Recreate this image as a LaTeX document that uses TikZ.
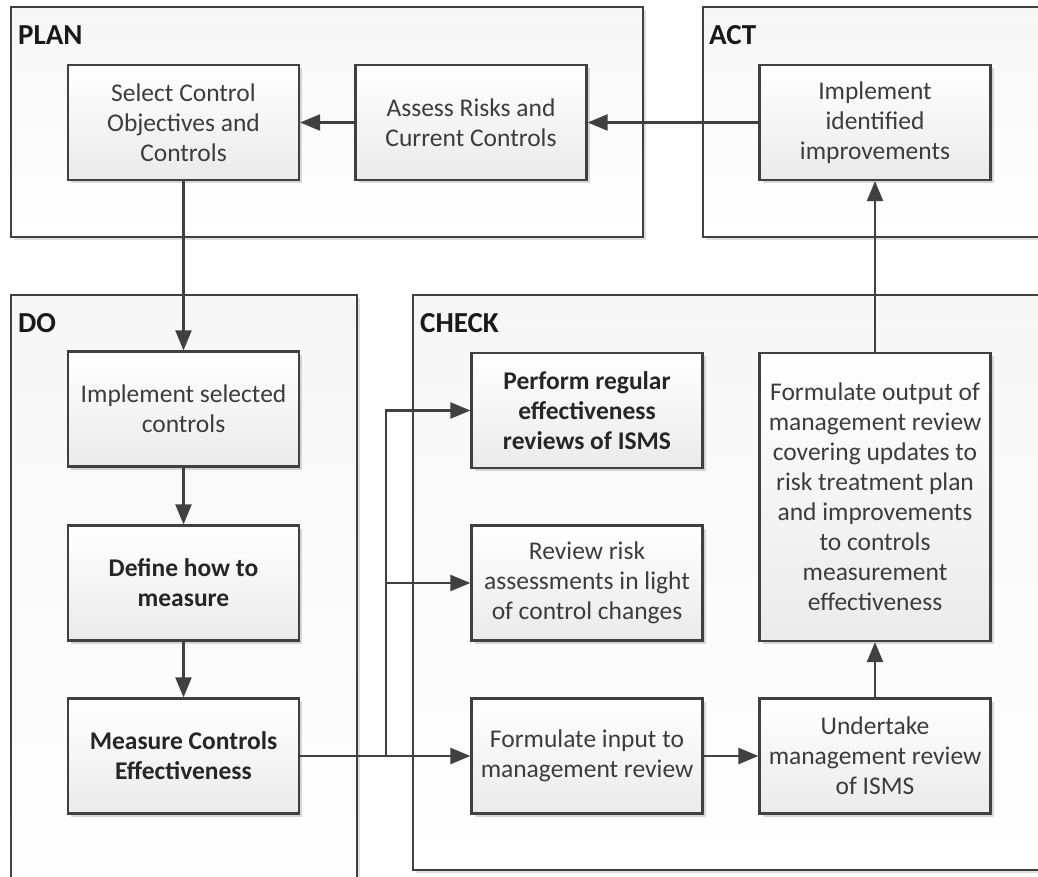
\documentclass[tikz,border=0pt]{standalone}
\usepackage{fontspec}
\setmainfont{Carlito}
\usetikzlibrary{arrows.meta,shadows}
\definecolor{lncol}{HTML}{404040}
\definecolor{txcol}{HTML}{3C3C3C}
\begin{document}
\begin{tikzpicture}[x=1pt,y=-1pt,
  container/.style={draw=lncol, line width=2.2pt, top color=gray!7, bottom color=white,
    drop shadow={shadow xshift=3pt,shadow yshift=-3pt,fill=gray,opacity=0.25}},
  stepbox/.style={draw=lncol, line width=2.2pt, top color=white, bottom color=gray!16,
    minimum width=231pt, minimum height=115pt, align=center, inner sep=0pt,
    font=\fontsize{25.5}{30}\selectfont, text=txcol,
    drop shadow={shadow xshift=3pt,shadow yshift=-3pt,fill=gray,opacity=0.3}},
  boldbox/.style={stepbox, font=\fontsize{25.5}{30}\selectfont\bfseries, text=black!85},
  title/.style={anchor=north west, font=\fontsize{29}{32}\selectfont\bfseries, inner sep=0pt, text=black!90},
  arr/.style={draw=lncol, line width=2.2pt, -{Triangle[length=20pt,width=16pt]}},
  plain/.style={draw=lncol, line width=2.2pt}
]
\useasboundingbox[fill=white] (0,0) rectangle (1038,877);
\begin{scope}
\clip (0,0) rectangle (1038,877);
% containers
\path[container] (11,7) rectangle (643,237);
\path[container] (703,7) rectangle (1070,237);
\path[container] (11,295) rectangle (357,920);
\path[container] (413,295) rectangle (1070,870);
\end{scope}
% titles
\node[title] (tplan) at (18,25) {PLAN};
\node[title] (tact) at (709,25) {ACT};
\node[title] (tdo) at (18,313) {DO};
\node[title] (tcheck) at (420,313) {CHECK};
% boxes
\node[stepbox] (sel) at (183.5,122.5) {Select Control\\Objectives and\\Controls};
\node[stepbox] (assess) at (471,122.5) {Assess Risks and\\Current Controls};
\node[stepbox] (impl) at (875,122.5) {Implement\\identified\\improvements};
\node[stepbox] (implsel) at (183.5,409) {Implement selected\\controls};
\node[boldbox] (define) at (183.5,583) {Define how to\\measure};
\node[boldbox] (measure) at (183.5,756) {Measure Controls\\Effectiveness};
\node[boldbox] (perform) at (587,410.5) {Perform regular\\effectiveness\\reviews of ISMS};
\node[stepbox] (review) at (587,583) {Review risk\\assessments in light\\of control changes};
\node[stepbox] (finput) at (587,756) {Formulate input to\\management review};
\node[stepbox] (under) at (875,756) {Undertake\\management review\\of ISMS};
\node[stepbox, minimum height=288pt] (foutput) at (875,497) {Formulate output of\\management review\\covering updates to\\risk treatment plan\\and improvements\\to controls\\measurement\\effectiveness};
% connectors
\draw[arr] (assess) -- (sel);
\draw[arr] (impl) -- (assess);
\draw[arr] (sel) -- (implsel);
\draw[arr] (implsel) -- (define);
\draw[arr] (define) -- (measure);
\draw[arr] (measure) -- (finput);
\coordinate (j) at (386,756);
\draw[arr] (j) |- (perform.west);
\draw[arr] (j |- review.west) -- (review.west);
\draw[arr] (finput) -- (under);
\draw[arr] (under) -- (foutput);
\draw[arr] (foutput) -- (impl);
\end{tikzpicture}
\end{document}
